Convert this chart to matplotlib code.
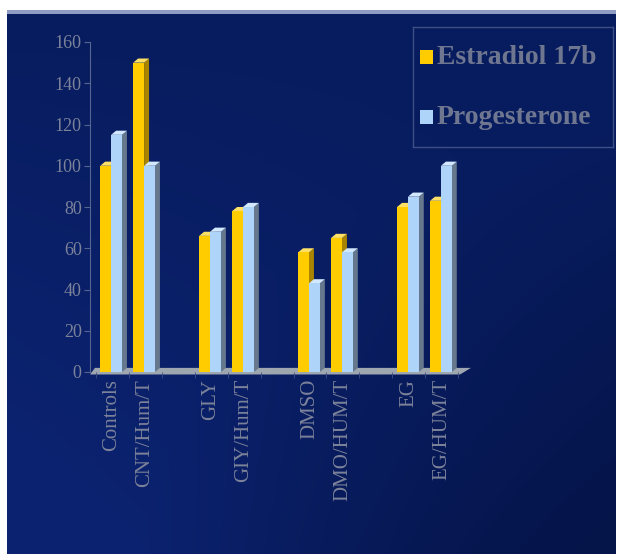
import numpy as np
import matplotlib.pyplot as plt
from matplotlib.patches import Polygon, Rectangle

categories = ['Controls', 'CNT/Hum/T', 'GLY', 'GIY/Hum/T',
              'DMSO', 'DMO/HUM/T', 'EG', 'EG/HUM/T']
estradiol = [100, 150, 66, 78, 58, 65, 80, 83]
progesterone = [115, 100, 68, 80, 43, 58, 85, 100]
series_names = ['Estradiol 17b', 'Progesterone']
y_ticks = [0, 20, 40, 60, 80, 100, 120, 140, 160]

W, H = 623, 556
fig = plt.figure(figsize=(W / 100, H / 100), dpi=100)
fig.patch.set_facecolor('white')

# ---- background panel with soft gradient ----
bg = fig.add_axes([7 / W, 2 / H, 609 / W, 542 / H])
yy, xx = np.mgrid[0:1:200j, 0:1:200j]
base = np.array([0.03, 0.11, 0.37])
light = np.array([0.045, 0.135, 0.44])
dark = np.array([0.02, 0.08, 0.29])
t = np.clip(yy * (1 - xx) * 1.3, 0, 1)[..., None]
d = np.clip(yy * xx * 1.4 - 0.3, 0, 1)[..., None]
img = base * (1 - t) + light * t
img = img * (1 - d) + dark * d
bg.imshow(img, aspect='auto', extent=[0, 1, 0, 1], origin='upper')
bg.set_axis_off()
# top strip line
fig.add_artist(Rectangle((7 / W, 1 - 14 / H), 609 / W, 4 / H,
                         transform=fig.transFigure, color='#8e9cc4', lw=0))

text_col = '#7b8299'
serif = 'Liberation Serif'

ax = fig.add_axes([90 / W, 1 - 372 / H, 376 / W, 330 / H])
ax.set_facecolor('none')
ax.set_xlim(-0.67, 10.73)
ax.set_ylim(0, 160)

dx, dy = 0.15, 2.0
bw = 0.33
yellow = ('#ffcc00', '#a88400', '#ffe066')
blue = ('#aed4fa', '#66788e', '#d2e8ff')

xpos = [i + i // 2 for i in range(len(categories))]
x_right = 10.55

# floor
floor = Polygon([(-0.67, -1.2), (x_right, -1.2), (x_right + dx * 2.2, dy),
                 (-0.67 + dx, dy)], closed=True, facecolor='#9ea6b0',
                edgecolor='none', zorder=1, clip_on=False)
ax.add_patch(floor)


def bar3d(x0, v, cols, z):
    face, side, top = cols
    ax.add_patch(Polygon([(x0 + bw, 0), (x0 + bw + dx, dy), (x0 + bw + dx, v + dy),
                          (x0 + bw, v)], closed=True, facecolor=side,
                         edgecolor='none', zorder=z, clip_on=False))
    ax.add_patch(Polygon([(x0, v), (x0 + dx, v + dy), (x0 + bw + dx, v + dy),
                          (x0 + bw, v)], closed=True, facecolor=top,
                         edgecolor='none', zorder=z, clip_on=False))
    ax.bar(x0, v, width=bw, align='edge', color=face, edgecolor='none',
           zorder=z + 0.5, clip_on=False)


z = 2
for x, e, p in zip(xpos, estradiol, progesterone):
    bar3d(x - 0.36, e, yellow, z)
    bar3d(x - 0.03, p, blue, z + 1)
    z += 2

# axes styling
for s in ['top', 'right', 'bottom']:
    ax.spines[s].set_visible(False)
ax.spines['left'].set_color('#55658f')
ax.spines['left'].set_linewidth(0.8)
ax.set_yticks(y_ticks)
ax.tick_params(axis='y', colors='#55658f', length=4, width=0.8, pad=2)
for lab in ax.get_yticklabels():
    lab.set_fontfamily(serif)
    lab.set_fontsize(13)
    lab.set_color(text_col)

ax.set_xticks(xpos)
ax.set_xticklabels(categories, rotation=90, fontfamily=serif, fontsize=15,
                   color=text_col)
ax.tick_params(axis='x', length=0, pad=5)
ax.set_xticks([x + 0.5 for x in range(-1, 11)], minor=True)
ax.tick_params(axis='x', which='minor', length=4, colors='#3d4f85', width=0.6)

# legend
leg_ax = fig.add_axes([413 / W, 1 - 147 / H, 200 / W, 120 / H])
leg_ax.set_xlim(0, 200)
leg_ax.set_ylim(120, 0)
leg_ax.set_facecolor('none')
for s in leg_ax.spines.values():
    s.set_color('#3d4f85')
    s.set_linewidth(1)
leg_ax.set_xticks([])
leg_ax.set_yticks([])
for i, (name, cols) in enumerate(zip(series_names, [yellow, blue])):
    yc = 30 + i * 60
    leg_ax.add_patch(Rectangle((7, yc - 7), 13, 14, facecolor=cols[0],
                               edgecolor='none'))
    leg_ax.text(24, yc + 1, name, fontfamily=serif, fontsize=20, fontweight='bold',
                color='#6f7690', va='center', ha='left')

fig.savefig('out.png', dpi=100)
